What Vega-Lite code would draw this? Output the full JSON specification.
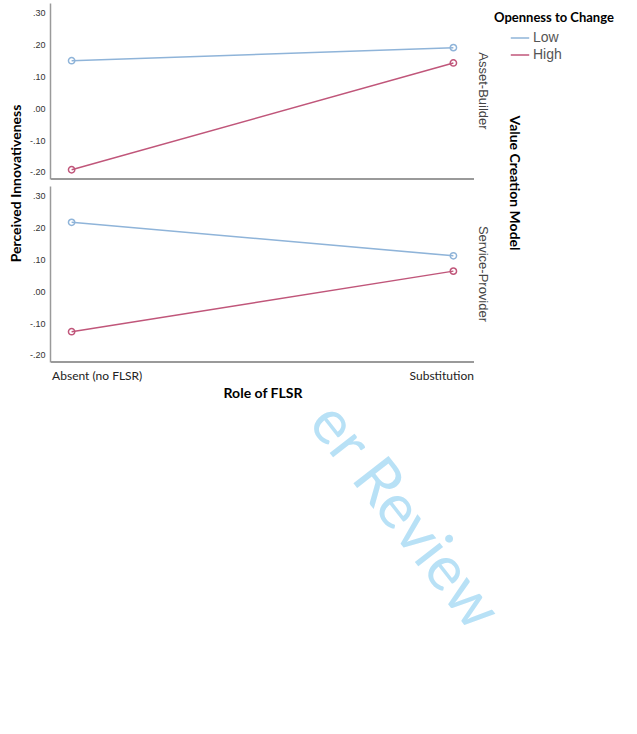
{
  "$schema": "https://vega.github.io/schema/vega-lite/v6.json",
  "background": "white",
  "padding": {"left": 10, "top": 3, "right": 5, "bottom": 5},
  "config": {"view": {"stroke": null}, "font": "Liberation Sans", "concat": {"spacing": 2}},
  "vconcat": [
    {
      "title": {"text": "Perceived Innovativeness", "orient": "left", "anchor": "middle", "font": "Lato", "fontWeight": "bold", "fontSize": 14, "color": "#000", "offset": 5, "dx": 18},
      "data": {"values": [
        {"model": "Asset-Builder", "role": "Absent (no FLSR)", "openness": "Low", "value": 0.149},
        {"model": "Asset-Builder", "role": "Substitution", "openness": "Low", "value": 0.190},
        {"model": "Asset-Builder", "role": "Absent (no FLSR)", "openness": "High", "value": -0.193},
        {"model": "Asset-Builder", "role": "Substitution", "openness": "High", "value": 0.142},
        {"model": "Service-Provider", "role": "Absent (no FLSR)", "openness": "Low", "value": 0.216},
        {"model": "Service-Provider", "role": "Substitution", "openness": "Low", "value": 0.111},
        {"model": "Service-Provider", "role": "Absent (no FLSR)", "openness": "High", "value": -0.127},
        {"model": "Service-Provider", "role": "Substitution", "openness": "High", "value": 0.063}
      ]},
      "facet": {
        "row": {
          "field": "model", "type": "nominal", "sort": ["Asset-Builder", "Service-Provider"],
          "header": {
            "title": "Value Creation Model", "titleOrient": "right", "labelOrient": "right",
            "labelAngle": 90, "titleAngle": 90,
            "titleFont": "Lato", "titleFontWeight": "bold", "titleFontSize": 14, "titleColor": "#000",
            "labelFont": "Liberation Sans", "labelFontSize": 13, "labelColor": "#444",
            "labelPadding": 1, "titlePadding": 8
          }
        }
      },
      "spacing": 6,
      "spec": {
        "width": 423,
        "height": 176,
        "encoding": {
          "x": {
            "field": "role", "type": "nominal", "sort": ["Absent (no FLSR)", "Substitution"],
            "scale": {"type": "point", "padding": 0.054},
            "axis": {
              "title": "Role of FLSR", "titleFont": "Lato", "titleFontWeight": "bold", "titleFontSize": 14,
              "titleColor": "#000", "titlePadding": 5,
              "labelAngle": 0, "domain": false, "ticks": false, "labelPadding": 7,
              "labelFont": "Lato", "labelFontSize": 12, "labelColor": "#222",
              "labelAlign": {"condition": {"test": "datum.value == 'Absent (no FLSR)'", "value": "left"}, "value": "right"},
              "labelOffset": {"condition": {"test": "datum.value == 'Absent (no FLSR)'", "value": -20}, "value": 20}
            }
          },
          "y": {
            "field": "value", "type": "quantitative",
            "scale": {"domain": [-0.222, 0.33], "nice": false, "zero": false},
            "axis": {
              "title": null,
              "values": [-0.2, -0.1, 0, 0.1, 0.2, 0.3],
              "labelExpr": "replace(replace(format(datum.value, '.2f'), '0.', '.'), '−', '-')",
              "grid": false, "ticks": false, "labelPadding": 5,
              "labelFontSize": 9, "labelColor": "#333",
              "domainColor": "#9a9a9a", "domainWidth": 1.5
            }
          }
        },
        "layer": [
          {
            "mark": {"type": "rule", "color": "#9a9a9a", "strokeWidth": 1.5},
            "encoding": {"x": null, "y": {"datum": -0.222, "type": "quantitative"}}
          },
          {
            "mark": {"type": "line", "strokeWidth": 1.5},
            "encoding": {
              "color": {
                "field": "openness", "type": "nominal",
                "scale": {"domain": ["Low", "High"], "range": ["#8fb4d9", "#c0567a"]},
                "legend": {
                  "title": "Openness to Change", "orient": "none", "legendX": 443, "legendY": 9,
                  "titleFont": "Lato", "titleFontWeight": "bold", "titleFontSize": 13, "titleColor": "#000",
                  "labelFont": "Liberation Sans", "labelFontSize": 14, "labelColor": "#555",
                  "symbolType": "stroke", "symbolStrokeWidth": 1.5, "symbolSize": 340, "symbolOffset": 16,
                  "rowPadding": 0, "labelOffset": 3, "titlePadding": 3,
                  "padding": 0, "offset": 0
                }
              }
            }
          },
          {
            "mark": {"type": "point", "filled": false, "size": 40, "strokeWidth": 1.5, "opacity": 1},
            "encoding": {
              "color": {"field": "openness", "type": "nominal"}
            }
          }
        ]
      }
    },
    {
      "width": 500,
      "height": 250,
      "data": {"values": [{"label": "er Review"}]},
      "mark": {"type": "text", "angle": 52, "fontSize": 62, "font": "Lato", "color": "#b8e1f6", "clip": true},
      "encoding": {
        "x": {"datum": 0.706, "type": "quantitative", "scale": {"domain": [0, 1]}, "axis": null},
        "y": {"datum": 0.54, "type": "quantitative", "scale": {"domain": [0, 1]}, "axis": null},
        "text": {"field": "label"}
      }
    }
  ]
}
